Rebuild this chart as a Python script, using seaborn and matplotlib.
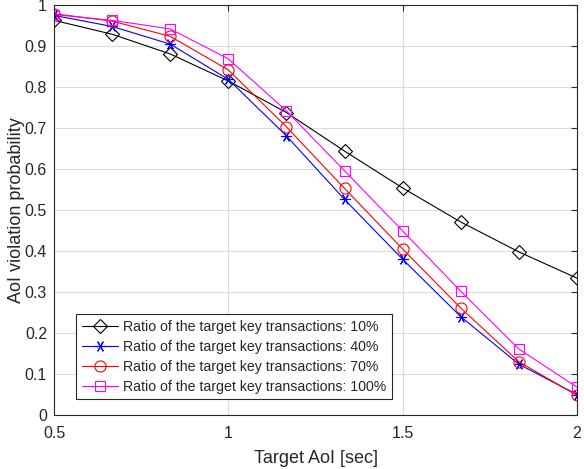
import matplotlib
import matplotlib.pyplot as plt
import seaborn as sns

matplotlib.use('Agg')

# Datos
target_aoi = [0.5, 0.6667, 0.8333, 1.0, 1.1667, 1.3333, 1.5, 1.6667, 1.8333, 2.0]
ratio_10 = [0.963, 0.929, 0.881, 0.815, 0.738, 0.644, 0.554, 0.471, 0.398, 0.334]
ratio_40 = [0.975, 0.948, 0.905, 0.819, 0.681, 0.526, 0.380, 0.240, 0.124, 0.050]
ratio_70 = [0.979, 0.961, 0.924, 0.842, 0.703, 0.553, 0.405, 0.261, 0.130, 0.048]
ratio_100 = [0.977, 0.963, 0.942, 0.869, 0.742, 0.596, 0.449, 0.302, 0.161, 0.068]
labels = ['Ratio of the target key transactions: 10%',
          'Ratio of the target key transactions: 40%',
          'Ratio of the target key transactions: 70%',
          'Ratio of the target key transactions: 100%']

series = [ratio_10, ratio_40, ratio_70, ratio_100]
colors = ['black', 'blue', 'red', 'magenta']
markers = ['D', (6, 2, 90), 'o', 's']
sizes = [7, 8, 8, 6.5]

sns.set_style('white')
plt.rcParams['font.family'] = ['Liberation Sans', 'DejaVu Sans']

fig = plt.figure(figsize=(5.84, 4.69), dpi=100)
ax = fig.add_axes([0.0925, 0.115, 0.8955, 0.874])

for ys, c, m, s, lab in zip(series, colors, markers, sizes, labels):
    sns.lineplot(x=target_aoi, y=ys, ax=ax, color=c, marker=m, markersize=s,
                 markerfacecolor='none', markeredgecolor=c, markeredgewidth=0.8,
                 linewidth=0.8, label=lab)

ax.set_xlim(0.5, 2.0)
ax.set_ylim(0, 1)
ax.set_xticks([0.5, 1, 1.5, 2])
ax.set_xticklabels(['0.5', '1', '1.5', '2'])
ax.set_yticks([i / 10 for i in range(11)])
ax.set_yticklabels(['0'] + [f'{i / 10:.1f}' for i in range(1, 10)] + ['1'])
ax.grid(True, color='#dcdcdc', linewidth=0.8)
ax.tick_params(direction='in', top=True, right=True, length=4, width=0.8,
               labelsize=11.5, colors='#262626')
ax.tick_params(axis='x', pad=8)
ax.tick_params(axis='y', pad=5)
for sp in ax.spines.values():
    sp.set_color('#262626')
    sp.set_linewidth(0.8)

ax.set_xlabel('Target AoI [sec]', fontsize=13, color='#262626', labelpad=6)
ax.set_ylabel('AoI violation probability', fontsize=13, color='#262626')
ax.yaxis.set_label_coords(-0.056, 0.5)

leg = ax.legend(loc='lower left', bbox_to_anchor=(0.042, 0.038), fontsize=10.2,
                fancybox=False, edgecolor='#262626', framealpha=1,
                borderpad=0.4, labelspacing=0.42, handlelength=2.6,
                handletextpad=0.3, borderaxespad=0)
leg.get_frame().set_linewidth(0.8)

plt.savefig('out.png', dpi=100)
plt.close()
